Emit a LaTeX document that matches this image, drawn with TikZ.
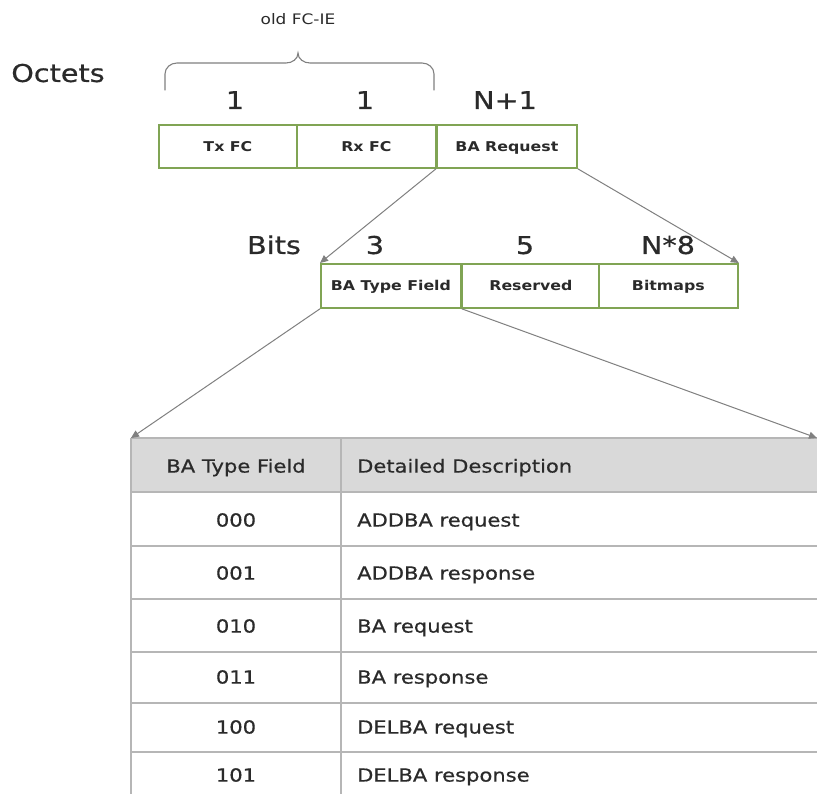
\documentclass[tikz,border=0pt]{standalone}
\usepackage{fontspec}
\setmainfont[FakeStretch=1.17]{DejaVu Sans}
\newfontfamily\medfont[FakeStretch=1.17,FakeBold=0.6]{DejaVu Sans}
\usetikzlibrary{arrows.meta}
\definecolor{fieldgreen}{RGB}{128,164,84}
\definecolor{linkgray}{RGB}{128,128,128}
\definecolor{gridgray}{RGB}{182,182,182}
\definecolor{headfill}{RGB}{217,217,217}
\definecolor{ink}{RGB}{42,42,42}
\tikzset{
  fieldbox/.style={draw=fieldgreen, line width=1.8pt, fill=white, inner sep=0pt,
    anchor=north west, text=ink, text height=9.8pt, text depth=0pt,
    font=\fontsize{13.5}{15}\selectfont\bfseries},
  count/.style={inner sep=0pt, text=ink, text height=17.9pt, text depth=0pt,
    font=\medfont\fontsize{24.5}{28}\selectfont},
  small/.style={inner sep=0pt, text=ink, text height=10.6pt, text depth=0pt,
    font=\fontsize{14.5}{17}\selectfont},
  cell/.style={inner sep=0pt, text=ink, text height=13.1pt, text depth=0pt,
    font=\medfont\fontsize{18}{21}\selectfont},
  link/.style={draw=linkgray, line width=1pt, -{Triangle[length=8pt,width=7pt]}},
  grid/.style={draw=gridgray, line width=1.6pt}
}
\begin{document}
\begin{tikzpicture}[x=1pt,y=-1pt]
\useasboundingbox[fill=white] (0,0) rectangle (817,793);

% labels above the octet fields
\node[small] (oldie) at (298,19) {old FC-IE};
\node[count] (octets) at (58,73) {Octets};
\draw[linkgray, line width=1.1pt, line cap=round]
  (165,90) -- (165,74) to[out=90,in=180] (177,63) -- (286,63)
  to[out=0,in=270] (298,53) to[out=270,in=180] (310,63) -- (422,63)
  to[out=0,in=90] (434,74) -- (434,90);
\node[count] (n1) at (235,100) {1};
\node[count] (n2) at (365,100) {1};
\node[count] (n3) at (505,100) {N+1};

% octet fields
\node[fieldbox, minimum width=138pt, minimum height=43pt] (txfc) at (158,124) {Tx FC};
\node[fieldbox, minimum width=139pt, minimum height=43pt] (rxfc) at (296,124) {Rx FC};
\node[fieldbox, minimum width=140pt, minimum height=43pt] (bareq) at (436,124) {BA Request};

% bit fields
\node[count] (bits) at (274,245) {Bits};
\node[count] (b1) at (375,245) {3};
\node[count] (b2) at (525,245) {5};
\node[count] (b3) at (668,245) {N*8};
\node[fieldbox, minimum width=140pt, minimum height=44pt] (batype) at (320,263) {BA Type Field};
\node[fieldbox, minimum width=138pt, minimum height=44pt] (resv) at (461,263) {Reserved};
\node[fieldbox, minimum width=139pt, minimum height=44pt] (bitmaps) at (598,263) {Bitmaps};

% BA type table
\coordinate (tblNW) at (131,438);
\coordinate (tblNE) at (817,438);
\fill[headfill] (131,438) rectangle (830,492);
\foreach \yy in {438,492,546,599,652,703,752}
  \draw[grid] (131,\yy) -- (830,\yy);
\draw[grid] (131,438) -- (131,800);
\draw[grid] (341,438) -- (341,800);

\node[cell] (h1) at (236,466) {BA Type Field};
\node[cell, anchor=west] (h2) at (357,466) {Detailed Description};
\node[cell] (c1) at (236,520) {000};
\node[cell, anchor=west] (d1) at (357,520) {ADDBA request};
\node[cell] (c2) at (236,573) {001};
\node[cell, anchor=west] (d2) at (357,573) {ADDBA response};
\node[cell] (c3) at (236,626) {010};
\node[cell, anchor=west] (d3) at (357,626) {BA request};
\node[cell] (c4) at (236,677) {011};
\node[cell, anchor=west] (d4) at (357,677) {BA response};
\node[cell] (c5) at (236,727) {100};
\node[cell, anchor=west] (d5) at (357,727) {DELBA request};
\node[cell] (c6) at (236,775) {101};
\node[cell, anchor=west] (d6) at (357,775) {DELBA response};

% expansion connectors
\draw[link] (bareq.south west) -- (batype.north west);
\draw[link] (bareq.south east) -- (bitmaps.north east);
\draw[link] (batype.south west) -- (tblNW);
\draw[link] (batype.south east) -- (tblNE);
\end{tikzpicture}
\end{document}
